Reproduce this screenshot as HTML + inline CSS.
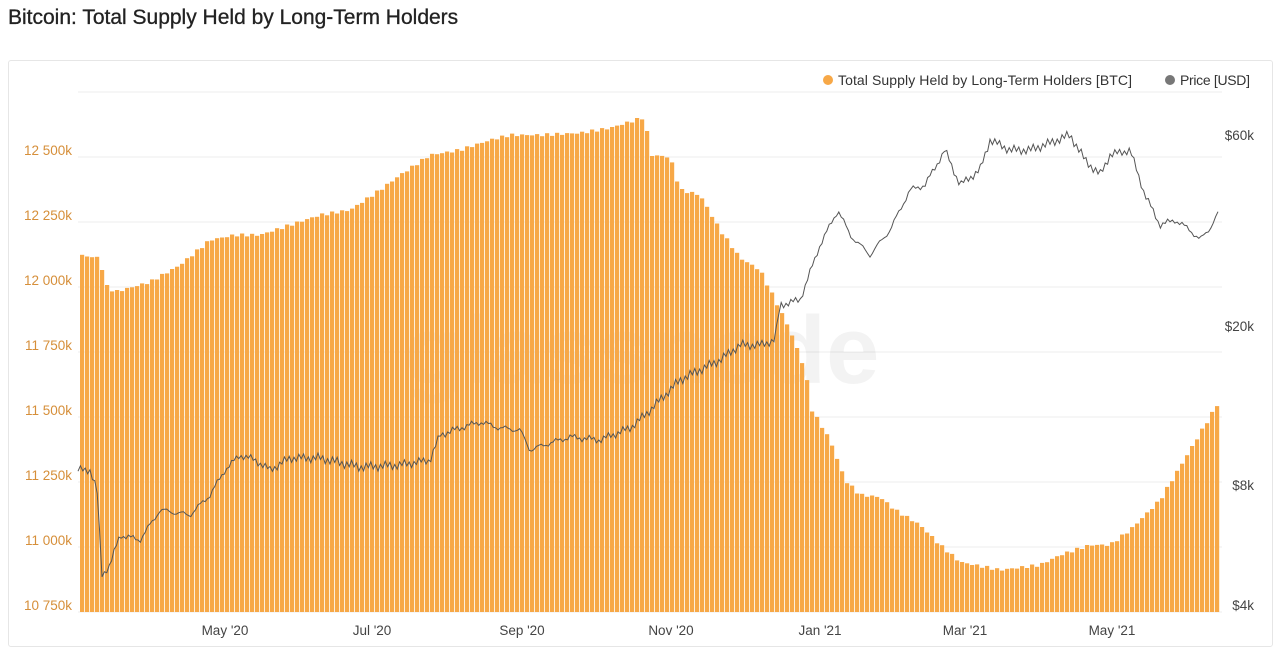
<!DOCTYPE html>
<html><head><meta charset="utf-8"><style>
body{margin:0;background:#fff;width:1280px;height:654px;overflow:hidden;font-family:"Liberation Sans",sans-serif}
.t{position:absolute;left:8px;top:6px;font-size:21px;color:#222;-webkit-text-stroke:0.3px #222}
.p{position:absolute;left:8px;top:60px;width:1263px;height:585px;border:1px solid #e6e6e6;border-radius:3px}
</style></head><body>
<div class="t">Bitcoin: Total Supply Held by Long-Term Holders</div>
<div class="p"></div>
<svg id="s" width="1280" height="654" style="position:absolute;left:0;top:0" font-family="Liberation Sans, sans-serif"></svg>
<script>
const s=document.getElementById('s');let h='';
for(let i=0;i<9;i++){const y=92+65*i;h+=`<line x1="78" x2="1222" y1="${y}" y2="${y}" stroke="#eee"/>`;}
const L=['12 500k','12 250k','12 000k','11 750k','11 500k','11 250k','11 000k','10 750k'];
L.forEach((t,i)=>h+=`<text x="72" y="${155+65*i}" text-anchor="end" font-size="13.5" fill="#d68f3a">${t}</text>`);
[['$60k',140],['$20k',331],['$8k',490],['$4k',610]].forEach(a=>h+=`<text x="1254" y="${a[1]}" text-anchor="end" font-size="13.5" fill="#444">${a[0]}</text>`);
[['May \'20',225],['Jul \'20',372],['Sep \'20',522],['Nov \'20',671],['Jan \'21',820],['Mar \'21',965],['May \'21',1112]].forEach(a=>h+=`<text x="${a[1]}" y="635" text-anchor="middle" font-size="13.5" fill="#444">${a[0]}</text>`);
h+=`<text x="642" y="383" text-anchor="middle" font-size="96" font-weight="bold" fill="#000" opacity="0.045">glassnode</text>`;
function ip(k,x){for(let i=0;i<k.length-1;i++){if(x<=k[i+1][0]){const a=k[i],b=k[i+1];return a[1]+(b[1]-a[1])*(x-a[0])/(b[0]-a[0]);}}return k[k.length-1][1];}
const S=[[78,255],[100,258],[105,285],[115,292],[150,282],[180,265],[210,240],[235,235],[260,235],[290,225],[320,215],[350,210],[380,190],[400,175],[430,155],[460,150],[490,140],[510,135],[540,135],[580,133],[610,128],[645,117],[650,155],[670,157],[680,190],[700,195],[720,230],[740,258],[760,270],[775,300],[790,330],[805,370],[812,410],[830,440],[845,480],[860,495],[880,497],[895,510],[920,525],[940,545],[960,562],[1000,570],[1040,565],[1060,555],[1090,545],[1110,545],[1130,530],[1160,500],[1190,450],[1220,400]];
for(let x=80;x<1220;x+=5){const y=ip(S,x+2)+Math.sin(x*0.7)*1.5;h+=`<rect x="${x}" y="${y.toFixed(1)}" width="4.2" height="${(612-y).toFixed(1)}" fill="#f7a847"/>`;}
const P=[[78,470],[90,470],[97,490],[102,575],[110,565],[120,535],[140,540],[160,510],[190,515],[210,495],[225,470],[240,455],[255,460],[270,470],[290,458],[320,458],[360,467],[400,465],[430,460],[440,435],[460,428],[480,422],[500,428],[520,430],[530,450],[550,443],[570,437],[600,440],[630,428],[645,415],[660,400],[680,380],[700,370],[720,360],[740,345],[760,345],[775,340],[780,305],[800,300],[820,245],[838,210],[850,235],[870,255],[890,230],[910,190],[925,185],[945,150],[960,185],[980,170],[990,140],[1010,150],[1030,150],[1050,143],[1070,135],[1085,160],[1100,175],[1110,155],[1130,150],[1145,195],[1160,225],[1175,220],[1190,230],[1200,240],[1210,228],[1220,210]];
let d='';for(let x=78;x<=1220;x+=2.4){const y=ip(P,x)+Math.sin(x*1.3)*3+Math.sin(x*0.37)*2;d+=(d?'L':'M')+x.toFixed(1)+','+y.toFixed(1);}
h+=`<path d="${d}" fill="none" stroke="#555" stroke-width="1"/>`;
h+=`<circle cx="828" cy="80" r="5" fill="#f7a847"/><text x="838" y="85" font-size="14" textLength="294" fill="#333">Total Supply Held by Long-Term Holders [BTC]</text>`;
h+=`<circle cx="1170" cy="80" r="5" fill="#777"/><text x="1180" y="85" font-size="14" textLength="70" fill="#333">Price [USD]</text>`;
s.innerHTML=h;
</script>
</body></html>
